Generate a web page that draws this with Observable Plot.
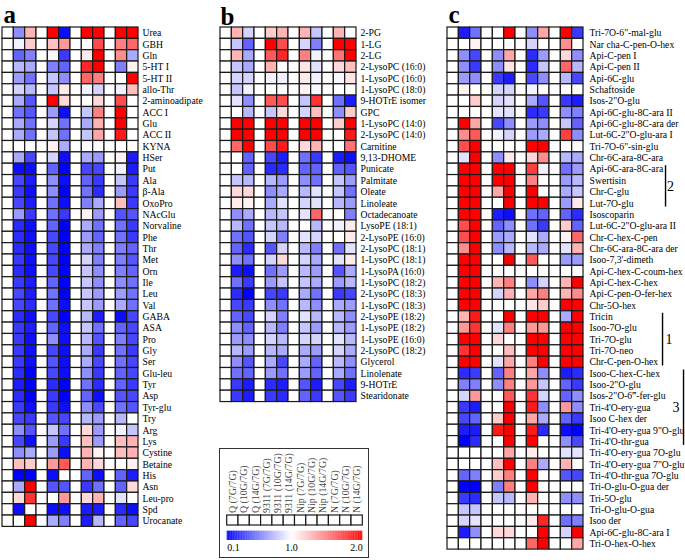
<!DOCTYPE html>
<html><head><meta charset="utf-8">
<script src="https://cdn.jsdelivr.net/npm/d3@7"></script>
<script src="https://cdn.jsdelivr.net/npm/@observablehq/plot@0.6"></script>
<style>
body{margin:0;background:#fff;}
#wrap{position:relative;width:685px;height:560px;overflow:hidden;background:#fff;}
#wrap svg{position:absolute;top:0;margin:0;}
.box{position:absolute;left:219px;top:448px;width:150px;height:110px;border:1.5px solid #333;box-sizing:border-box;}
</style></head><body><div id="wrap"><div class="box"></div></div>
<script>
const columns = ["Q (7G/7G)","Q (10G/7G)","Q (14G/7G)","9311 (7G/7G)","9311 (10G/7G)","9311 (14G/7G)","Nip (7G/7G)","Nip (10G/7G)","Nip (14G/7G)","N (7G/7G)","N (10G/7G)","N (14G/7G)"];

const rowsA = ["Urea","GBH","Gln","5-HT I","5-HT II","allo-Thr","2-aminoadipate","ACC I","Glu","ACC II","KYNA","HSer","Put","Ala","β-Ala","OxoPro","NAcGlu","Norvaline","Phe","Thr","Met","Orn","Ile","Leu","Val","GABA","ASA","Pro","Gly","Ser","Glu-leu","Tyr","Asp","Tyr-glu","Try","Arg","Lys","Cystine","Betaine","His","Asn","Leu-pro","Spd","Urocanate"];
const valuesA = [
[1,0.6,1.3,1,2,0.15,1,2,2,1,2,2],
[1,0.95,1.2,1,1.25,1.4,1,1,1.7,1,1.5,1.6],
[1,0.45,0.55,1,0.97,0.3,1,1.08,2,1,1.45,0.7],
[1,0.75,0.7,1,0.55,0.45,1,1.85,2,1,0.55,1.05],
[1,0.65,0.5,1,0.8,0.6,1,1.6,1.5,1,1,2],
[1,0.85,0.75,1,0.8,1.08,1,0.95,0.85,1,0.95,1.25],
[1,0.7,0.4,1,2,1.15,1,1,1.15,1,1.7,1],
[1,0.5,0.4,1,0.65,0.15,1,0.8,1.5,1,2,1],
[1,0.7,0.5,1,0.85,0.5,1,0.7,1.3,1,2,1],
[1,0.7,0.5,1,0.8,0.5,1,0.8,1.35,1,1.9,1],
[1,1,1,1,1.05,0.7,1,1,1,1,1,1],
[1,0.7,0.35,1,0.85,0.15,1,0.7,0.65,1,1.05,0.2],
[1,0.15,0.15,1,0.45,0.1,1,0.35,0.35,1,0.95,0.2],
[1,0.35,0.2,1,0.6,0.15,1,0.45,0.3,1,0.8,0.3],
[1,0.3,0.15,1,0.6,0.1,1,0.5,0.25,1,0.65,0.3],
[1,0.35,0.2,1,0.5,0.15,1,0.55,0.7,1,1.25,0.3],
[1,0.65,0.3,1,0.5,0.3,1,1.05,0.65,1,0.4,0.4],
[1,0.25,0.15,1,0.45,0.1,1,0.7,0.5,1,0.5,0.3],
[1,0.25,0.15,1,0.35,0.1,1,0.65,0.45,1,0.5,0.3],
[1,0.25,0.15,1,0.35,0.1,1,0.7,0.55,1,0.55,0.45],
[1,0.3,0.15,1,0.35,0.1,1,0.85,0.55,1,0.55,0.4],
[1,0.25,0.15,1,0.35,0.1,1,0.8,0.6,1,0.55,0.45],
[1,0.3,0.2,1,0.45,0.1,1,0.8,0.6,1,0.6,0.5],
[1,0.35,0.2,1,0.5,0.1,1,0.8,0.65,1,0.65,0.5],
[1,0.35,0.25,1,0.5,0.15,1,0.8,0.65,1,0.7,0.5],
[1,0.25,0.15,1,0.35,0.1,1,0.75,0.2,1,0.15,0.35],
[1,0.3,0.2,1,0.45,0.15,1,0.8,0.5,1,0.45,0.35],
[1,0.3,0.15,1,0.6,0.15,1,0.75,0.4,1,0.55,0.35],
[1,0.3,0.15,1,0.35,0.15,1,0.7,0.3,1,0.5,0.3],
[1,0.3,0.15,1,0.4,0.15,1,0.7,0.35,1,0.5,0.35],
[1,0.25,0.1,1,0.35,0.15,1,0.6,0.3,1,0.45,0.35],
[1,0.2,0.1,1,0.25,0.1,1,0.5,0.25,1,0.45,0.3],
[1,0.25,0.1,1,0.3,0.1,1,0.45,0.15,1,0.4,0.35],
[1,0.3,0.15,1,0.3,0.15,1,0.6,0.35,1,0.5,0.4],
[1,0.35,0.3,1,0.4,0.35,1,0.75,0.65,1,0.75,1],
[1,0.6,0.4,1,0.8,0.5,1,1.15,0.65,1,0.95,0.8],
[1,0.35,0.15,1,0.65,0.3,1,1.25,0.65,1,1.25,1.3],
[1,0.6,0.7,1,0.65,0.15,1,1.3,1.05,1,1.25,1.3],
[1,1.25,1.2,1,1.4,1.65,1,1.3,1.15,1,1,1.05],
[1,0.1,0.1,1,0.15,1,1,0.45,0.15,1,0.45,0.2],
[1,0.7,2,1,0.4,0.4,1,0.3,0.5,1,0.45,1.15],
[1,1.15,1.8,1,1,1.4,1,1.15,1.3,1,0.9,1],
[1,0.15,1,1,0.15,0.15,1,0.2,0.2,1,0.25,0.15],
[1,1,2,1,0.7,0.55,1,0.2,0.75,1,0.45,0.35]
];

const rowsB = ["2-PG","1-LG","2-LG","2-LysoPC (16:0)","1-LysoPC (16:0)","1-LysoPC (18:0)","9-HOTrE isomer","GPC","1-LysoPC (14:0)","2-LysoPC (14:0)","Carnitine","9,13-DHOME","Punicate","Palmitate","Oleate","Linoleate","Octadecanoate","LysoPE (18:1)","2-LysoPE (16:0)","2-LysoPC (18:1)","1-LysoPC (18:1)","1-LysoPA (16:0)","1-LysoPC (18:2)","2-LysoPC (18:3)","1-LysoPC (18:3)","2-LysoPE (18:2)","1-LysoPE (18:2)","1-LysoPE (16:0)","2-LysoPC (18:2)","Glycerol","Linolenate","9-HOTrE","Stearidonate"];
const valuesB = [
[1,1.3,0.85,1,1.2,1.3,1,1.3,0.8,1,1.3,1],
[1,0.8,0.45,1,2,1.7,1,0.85,0.55,1,2,2],
[1,1.3,0.7,1,1.65,1.85,1,1.5,0.95,1,1.55,2],
[1,0.8,0.7,1,1.3,1,1,1.1,0.9,1,1.15,1.25],
[1,0.85,0.85,1,0.95,0.95,1,1.08,0.95,1,0.97,1.1],
[1,0.8,0.95,1,1,1,1,1.05,0.97,1,1,1],
[1,0.9,0.6,1,1.65,1.7,1,0.8,1.8,1,0.5,0.2],
[1,1,0.75,1,0.8,1.15,1,0.85,1.25,1,0.6,1.2],
[1,2,2,1,2,2,1,2,2,1,1.2,2],
[1,2,2,1,2,2,1,2,2,1,1,1.9],
[1,1.6,2,1,1.7,1.9,1,1.15,1.3,1,1,1.55],
[1,1,0.45,1,0.35,0.2,1,0.5,0.3,1,0.2,0.15],
[1,1,0.45,1,0.25,0.25,1,0.45,0.45,1,0.45,0.4],
[1,0.8,0.75,1,0.75,0.65,1,0.6,0.5,1,0.8,0.65],
[1,1.15,1.15,1,0.6,0.7,1,0.75,0.9,1,0.8,0.5],
[1,1.08,1.05,1,0.7,0.9,1,0.85,0.9,1,0.75,0.65],
[1,0.6,0.7,1,0.75,0.8,1,0.9,1.6,1,1,0.55],
[1,0.75,0.5,1,0.8,0.75,1,1,0.75,1,0.95,1.08],
[1,0.5,0.4,1,0.85,0.55,1,0.9,0.85,1,1,1.08],
[1,0.45,0.25,1,0.4,0.85,1,0.75,0.55,1,0.5,0.9],
[1,0.6,0.5,1,0.85,1.15,1,0.85,0.7,1,0.9,1.08],
[1,0.2,0.15,1,0.5,0.65,1,0.75,0.65,1,0.4,0.7],
[1,0.5,0.3,1,0.65,0.8,1,0.8,0.7,1,0.65,0.75],
[1,0.25,0.1,1,0.35,0.3,1,0.7,0.5,1,0.3,0.35],
[1,0.35,0.3,1,0.6,0.5,1,0.75,0.6,1,0.7,0.65],
[1,0.45,0.35,1,0.85,0.55,1,0.9,0.75,1,0.75,0.6],
[1,0.6,0.45,1,0.75,0.55,1,0.8,0.65,1,0.75,0.65],
[1,0.65,0.6,1,0.85,0.75,1,0.85,0.85,1,0.9,0.75],
[1,0.75,0.65,1,0.75,0.7,1,0.7,0.65,1,0.85,0.7],
[1,0.6,0.4,1,0.7,0.35,1,0.7,0.45,1,0.75,0.6],
[1,0.5,0.45,1,0.65,0.5,1,0.65,0.45,1,0.7,0.5],
[1,0.3,0.2,1,0.25,0.2,1,0.4,0.2,1,0.35,0.2],
[1,0.3,0.2,1,0.3,0.25,1,0.45,0.3,1,0.4,0.3]
];

const rowsC = ['Tri-7O-6"-mal-glu','Nar cha-C-pen-O-hex','Api-C-pen I','Api-C-pen II','Api-6C-glu','Schaftoside','Isos-2"O-glu','Api-6C-glu-8C-ara II','Api-6C-glu-8C-ara der','Lut-6C-2"O-glu-ara I','Tri-7O-6"-sin-glu','Chr-6C-ara-8C-ara','Api-6C-ara-8C-ara','Swertisin','Chr-C-glu','Lut-7O-glu','Isoscoparin','Lut-6C-2"O-glu-ara II','Chr-C-hex-C-pen','Chr-6C-ara-8C-ara der',"Isoo-7,3'-dimeth",'Api-C-hex-C-coum-hex','Api-C-hex-C-hex','Api-C-pen-O-fer-hex','Chr-5O-hex','Tricin','Isoo-7O-glu','Tri-7O-glu','Tri-7O-neo','Chr-C-pen-O-hex','Isoo-C-hex-C-hex','Isoo-2"O-glu','Isos-2"O-6‴-fer-glu',"Tri-4'O-ery-gua",'Isoo C-hex der','Tri-4\'O-ery-gua 9"O-glu',"Tri-4'O-thr-gua","Tri-4'O-ery-gua 7O-glu",'Tri-4\'O-ery-gua 7"O-glu',"Tri-4'O-thr-gua 7O-glu",'Tri-O-glu-O-gua der','Tri-5O-glu','Tri-O-glu-O-gua','Isoo der','Api-6C-glu-8C-ara I','Tri-O-hex-O-hex'];
const valuesC = [
[1,0.2,0.5,1,1,2,1,0.6,1.35,1,2,0.3],
[1,1,1.05,1,1,1,1,0.85,1,1,1.45,1],
[1,0.6,0.35,1,0.6,1.35,1,0.25,0.65,1,1.15,0.6],
[1,0.6,0.3,1,0.6,1.1,1,0.25,0.8,1,1.6,0.75],
[1,0.65,0.6,1,0.3,0.2,1,0.35,0.6,1,0.75,0.35],
[1,1.05,1,1,0.85,0.85,1,0.95,1,1,1,1],
[1,1,1.2,1,0.85,0.9,1,0.7,0.4,1,0.3,0.2],
[1,1,1,1,0.9,0.9,1,0.25,0.3,1,0.6,0.55],
[1,2,1.35,1,0.35,0.6,1,0.65,0.6,1,0.8,0.45],
[1,1.45,1.65,1,0.95,0.85,1,0.65,0.7,1,1.75,0.6],
[1,1.7,2,1,1,1,1,2,2,1,1,1],
[1,0.9,2,1,0.6,1.08,1,1.15,1.45,1,0.75,0.7],
[1,2,2,1,2,2,1,1.75,0.95,1,0.5,0.65],
[1,2,2,1,2,2,1,1.5,1,1,0.65,0.75],
[1,2,2,1,1.35,2,1,2,1,1,0.7,0.8],
[1,2,2,1,1,2,1,2,2,1,0.65,1.08],
[1,2,2,1,0.2,0.15,1,0.5,0.45,1,0.45,0.25],
[1,1.7,2,1,0.45,0.6,1,0.5,0.3,1,1.2,0.45],
[1,1.7,2,1,0.65,0.7,1,0.9,0.7,1,1.05,1.6],
[1,1.45,2,1,0.6,0.75,1,0.75,0.7,1,0.9,1.3],
[1,2,2,1,1,2,1,1.65,1,1,0.65,0.65],
[1,2,2,1,1,1,1,1,1,1,1,1],
[1,2,2,1,1.3,1.5,1,0.6,0.85,1,1.3,2],
[1,2,2,1,0.85,1.3,1,1.35,1.5,1,1.3,1.45],
[1,2,2,1,1,1,1,1.1,1.2,1,2,2],
[1,1.3,1.9,1,1,2,1,2,2,1,0.7,2],
[1,1.4,1.8,1,0.9,1.5,1,1.4,1.4,1,2,2],
[1,2,2,1,1.15,1,1,2,2,1,2,2],
[1,1.8,2,1,1,1.25,1,2,2,1,2,2],
[1,2,2,1,0.9,1.35,1,1.5,2,1,2,2],
[1,0.25,0.3,1,0.45,1.5,1,1.35,0.6,1,0.2,0.25],
[1,0.55,0.55,1,0.6,1.5,1,1.4,0.8,1,0.45,0.3],
[1,0.85,1.4,1,1,1.65,1,1.8,0.85,1,0.45,0.6],
[1,0.3,0.2,1,1,2,1,1.9,0.6,1,1.4,0.6],
[1,0.35,0.45,1,1.2,2,1,1.35,0.7,1,0.45,0.3],
[1,0.2,0.2,1,1.9,2,1,1.9,0.25,1,0.15,0.1],
[1,0.1,0.25,1,1,2,1,2,1,1,0.6,0.35],
[1,1,1,1,1,1.35,1,1.08,1,1,0.9,0.9],
[1,1,1,1,1.25,2,1,1.5,0.7,1,1.3,1],
[1,0.45,0.55,1,1.2,1.5,1,2,1,1,0.4,0.35],
[1,0.1,0.1,1,0.55,1.5,1,2,1,1,1,1],
[1,0.3,0.25,1,0.8,0.75,1,1.3,1,1,0.6,0.6],
[1,0.8,0.8,1,1,1,1,1,1,1,1,1],
[1,0.85,0.9,1,1,1,1,1.08,1.85,1,0.5,0.55],
[1,0.2,0.6,1,1.15,1.15,1,1,2,1,0.85,2],
[1,1,1,1,1,1,1,1.6,2,1,1,1.35]
];

const groupsC = [
  {label:"2", first:"Api-6C-ara-8C-ara", last:"Lut-7O-glu"},
  {label:"1", first:"Tricin", last:"Chr-C-pen-O-hex"},
  {label:"3", first:"Isoo-C-hex-C-hex", last:"Tri-4'O-thr-gua"}
];
const legendTicks = [0.1, 1.0, 2.0];

// ---------- drawing ----------
const wrap = document.getElementById("wrap");
const ROW = 11.35;
const GRID = 136;
const FONT = '"Liberation Serif", "Times New Roman", serif';
const colorScale = {type:"linear", domain:[0.1,1,2], range:["#0000ff","#ffffff","#ff0000"]};

function heat(rows, values, opt){
  const data = rows.flatMap((r,i)=>values[i].map((v,j)=>({row:r, col:columns[j], v})));
  const marginTop = 27, marginLeft = 2, marginBottom = 2;
  const height = marginTop + rows.length*ROW + marginBottom;
  const width = marginLeft + GRID + opt.marginRight;
  const marks = [
    Plot.cell(data,{x:"col", y:"row", fill:"v", stroke:"#1a1a1a", strokeWidth:1.2}),
    Plot.text([opt.letter],{text:d=>d, frameAnchor:"top-left", textAnchor:"start", lineAnchor:"bottom",
      dx: opt.letterDx || 0, dy: opt.letterBaseline - marginTop, fontSize: opt.letterSize, fontWeight:"bold", fill:"#000"})
  ].concat(opt.extra ? opt.extra(rows) : []);
  const p = Plot.plot({
    width, height, marginTop, marginLeft, marginRight:opt.marginRight, marginBottom,
    style:{fontFamily:FONT, fontSize:"9.7px", background:"transparent", overflow:"visible", color:"#000"},
    x:{domain:columns, axis:null, padding:0, round:false},
    y:{domain:rows, axis:"right", padding:0, round:false, tickSize:0, tickPadding:opt.tickPadding, label:null},
    color:colorScale,
    marks
  });
  p.style.left = opt.left + "px";
  wrap.appendChild(p);
}

heat(rowsA, valuesA, {left:0, marginRight:75, tickPadding:4, letter:"a", letterSize:25, letterBaseline:22.5, letterDx:1});
heat(rowsB, valuesB, {left:218, marginRight:95, tickPadding:4, letter:"b", letterSize:25, letterBaseline:24.5});

const bracketX = {"2":{line:87.7, text:92.7}, "1":{line:84.7, text:91.2}, "3":{line:105.7, text:98.2}};
heat(rowsC, valuesC, {left:445, marginRight:102, tickPadding:6, letter:"c", letterSize:25, letterBaseline:22.5, letterDx:1,
  extra:(rows)=> groupsC.flatMap(g=>{
    const i1 = rows.indexOf(g.first), i2 = rows.indexOf(g.last);
    const mid = (i1+i2)/2, base = Math.floor(mid);
    const lastCol = columns[columns.length-1];
    return [
      Plot.ruleX([g],{x:()=>lastCol, y1:d=>d.first, y2:d=>d.last, dx:bracketX[g.label].line, stroke:"#000", strokeWidth:1.4, insetTop:2, insetBottom:2}),
      Plot.text([g],{x:()=>lastCol, y:()=>rows[base], text:d=>d.label, dx:bracketX[g.label].text, dy:(mid-base)*ROW, fontSize:14, fill:"#000"})
    ];
  })
});

// ---------- legend ----------
const lg1 = Plot.plot({
  width:150, height:80, marginLeft:7.7, marginRight:6.7, marginTop:67, marginBottom:3,
  style:{fontFamily:FONT, fontSize:"9.8px", background:"transparent", overflow:"visible"},
  x:{domain:columns, axis:null, padding:0, round:false},
  y:{domain:["key"], axis:null, padding:0, round:false},
  marks:[
    Plot.cell(columns,{x:d=>d, y:()=>"key", fill:"white", stroke:"#1a1a1a", strokeWidth:1.2}),
    Plot.text(columns,{x:d=>d, y:()=>"key", text:d=>d, rotate:-90, textAnchor:"start", dy:-7.5, fill:"#444"})
  ]
});
lg1.style.left = "219px"; lg1.style.top = "448px";
wrap.appendChild(lg1);

const steps = d3.range(0.1, 2, 0.01);
const lg2 = Plot.plot({
  width:150, height:32, marginLeft:7.7, marginRight:6.7, marginTop:4.7, marginBottom:18,
  style:{fontFamily:FONT, fontSize:"10px", background:"transparent", overflow:"visible"},
  x:{type:"linear", domain:[0.1,2], axis:null},
  y:{type:"linear", domain:[0,1], axis:null},
  color:colorScale,
  marks:[
    Plot.rect(steps,{x1:d=>d, x2:d=>Math.min(2,d+0.013), y1:0, y2:1, fill:d=>d}),
    Plot.text([legendTicks[0]],{x:d=>d, text:d=>d.toFixed(1), frameAnchor:"bottom", lineAnchor:"top", dy:3, textAnchor:"start", fill:"#000"}),
    Plot.text([legendTicks[1]],{x:d=>d, text:d=>d.toFixed(1), frameAnchor:"bottom", lineAnchor:"top", dy:3, textAnchor:"middle", fill:"#000"}),
    Plot.text([legendTicks[2]],{x:d=>d, text:d=>d.toFixed(1), frameAnchor:"bottom", lineAnchor:"top", dy:3, textAnchor:"end", fill:"#000"})
  ]
});
lg2.style.left = "219px"; lg2.style.top = "526px";
wrap.appendChild(lg2);
</script></body></html>
